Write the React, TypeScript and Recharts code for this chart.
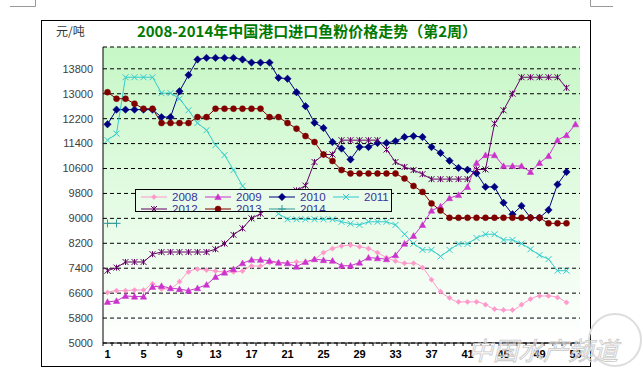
import React from 'react';
import { LineChart, Line, XAxis, YAxis, CartesianGrid, Legend } from 'recharts';

const weeks = [1,2,3,4,5,6,7,8,9,10,11,12,13,14,15,16,17,18,19,20,21,22,23,24,25,26,27,28,29,30,31,32,33,34,35,36,37,38,39,40,41,42,43,44,45,46,47,48,49,50,51,52,53];
const xLabelWeeks = [1,5,9,13,17,21,25,29,33,37,41,45,49,53];
const yTicks = [5000,5800,6600,7400,8200,9000,9800,10600,11400,12200,13000,13800];

const s2008 = [6620,6680,6680,6700,6700,6900,6730,6760,6970,7280,7370,7340,7310,7280,7280,7310,7470,7470,7580,7580,7570,7600,7600,7690,7900,8030,8110,8140,8090,8030,7900,7740,7630,7560,7560,7420,7030,6650,6450,6320,6320,6320,6230,6090,6060,6060,6230,6410,6510,6510,6460,6300];
const s2009 = [6320,6350,6510,6490,6490,6800,6830,6760,6730,6680,6760,6870,7120,7260,7370,7560,7670,7670,7640,7580,7560,7450,7600,7690,7660,7640,7480,7480,7580,7740,7720,7690,7820,8190,8440,8790,9250,9380,9650,9750,10010,10780,11030,11030,10680,10680,10680,10490,10780,11000,11510,11670,12020];
const s2010 = [12020,12490,12490,12490,12490,12490,12250,12250,13080,13600,14100,14150,14150,14150,14150,14100,14000,14000,14000,13510,13480,13050,12600,12070,11900,11450,11240,10890,11290,11290,11420,11420,11480,11610,11640,11610,11290,11100,10850,10620,10560,10450,10010,10010,9500,9130,9400,9020,9020,9270,10090,10490];
const s2011 = [11510,11720,13530,13530,13530,13530,13020,13020,12840,12470,12060,11830,11350,11030,10550,10040,9750,9550,9380,9150,8970,8970,8970,8970,8970,8970,8890,8830,8790,8890,8890,8890,8790,8490,8190,7990,7990,7780,7990,8180,8180,8370,8490,8490,8310,8310,8190,8010,7820,7690,7320,7320];
const s2012 = [7320,7420,7600,7600,7600,7850,7920,7920,7920,7920,7920,7920,8010,8190,8470,8680,9000,9150,9350,9550,9750,9900,10050,10810,11050,11050,11510,11510,11510,11510,11510,11210,10810,10650,10550,10420,10260,10260,10260,10260,10260,10570,10570,12040,12470,13000,13530,13530,13530,13530,13530,13190];
const s2013 = [13050,12840,12840,12680,12520,12520,12060,12060,12060,12060,12250,12250,12520,12520,12520,12520,12520,12520,12250,12250,12060,11880,11640,11450,11050,10840,10550,10440,10440,10440,10440,10440,10440,10280,10040,9850,9480,9250,9020,9020,9020,9020,9020,9020,9020,9020,9020,9020,9020,8840,8840,8840];
const s2014 = [8840,8840];

const seriesNames = ['2008','2009','2010','2011','2012','2013','2014'];
const seriesValues = [s2008,s2009,s2010,s2011,s2012,s2013,s2014];
const seriesColors = ['#ff99cc','#cc33cc','#000080','#33cccc','#660066','#800000','#339999'];
const seriesShapes = ['smallDiamond','triangle','diamond','x','star','circle','plus'];

const chartData = weeks.map((w, i) => {
  const row: any = { week: w };
  seriesNames.forEach((n, k) => { const v = seriesValues[k][i]; row['y' + n] = v === undefined ? null : v; });
  return row;
});

function Marker({ shape, cx, cy, color }: any) {
  switch (shape) {
    case 'diamond': { const r = 3.7; return <path d={`M${cx},${cy - r}L${cx + r},${cy}L${cx},${cy + r}L${cx - r},${cy}Z`} fill={color} stroke={color} strokeWidth={0.5} />; }
    case 'smallDiamond': { const r = 2.6; return <path d={`M${cx},${cy - r}L${cx + r},${cy}L${cx},${cy + r}L${cx - r},${cy}Z`} fill={color} stroke={color} strokeWidth={0.5} />; }
    case 'triangle': { const r = 3.2; return <path d={`M${cx},${cy - r}L${cx + r},${cy + r * 0.8}L${cx - r},${cy + r * 0.8}Z`} fill={color} stroke={color} strokeWidth={0.5} />; }
    case 'x': { const r = 3; return <path d={`M${cx - r},${cy - r}L${cx + r},${cy + r}M${cx - r},${cy + r}L${cx + r},${cy - r}`} stroke={color} strokeWidth={1} fill="none" />; }
    case 'star': { const r = 3; return <path d={`M${cx - r},${cy - r}L${cx + r},${cy + r}M${cx - r},${cy + r}L${cx + r},${cy - r}M${cx},${cy - r}L${cx},${cy + r}`} stroke={color} strokeWidth={1} fill="none" />; }
    case 'circle': return <circle cx={cx} cy={cy} r={3} fill={color} stroke={color} strokeWidth={0.5} />;
    case 'plus': { const r = 4; return <path d={`M${cx - r},${cy}L${cx + r},${cy}M${cx},${cy - r}L${cx},${cy + r}`} stroke={color} strokeWidth={1} fill="none" />; }
    default: return null;
  }
}

const makeDot = (shape: string, color: string) => (props: any) => {
  const { cx, cy, index, value } = props;
  if (cx == null || cy == null || value == null || Number.isNaN(cy)) return <g key={`${shape}-${index}`} />;
  return <g key={`${shape}-${index}`}><Marker shape={shape} cx={cx} cy={cy} color={color} /></g>;
};

const XTick = (props: any) => {
  const { x, y, payload } = props;
  const show = xLabelWeeks.includes(payload.value);
  return (
    <g>
      <line x1={x - 4.5} x2={x - 4.5} y1={y} y2={y + 3} stroke="#000" strokeWidth={1} />
      {show && (
        <text x={x} y={y + 15} textAnchor="middle" fontSize={11} fontWeight="bold" fontFamily="Liberation Sans, Arial, sans-serif" fill="#000">{payload.value}</text>
      )}
    </g>
  );
};

const renderLegend = () => (
  <div style={{ position: 'relative', width: 257, height: 23, border: '1px solid #000', background: '#e9fbe9', overflow: 'hidden', boxSizing: 'border-box' }}>
    {seriesNames.map((n, i) => {
      const col = i < 4 ? i : i - 4;
      const row = i < 4 ? 0 : 1;
      return (
        <div key={n} style={{ position: 'absolute', left: 5 + col * 64, top: 1 + row * 12, height: 12, display: 'flex', alignItems: 'center', whiteSpace: 'nowrap' }}>
          <svg width={26} height={12} style={{ display: 'block' }}>
            <line x1={0} x2={26} y1={6} y2={6} stroke={seriesColors[i]} strokeWidth={1} />
            <Marker shape={seriesShapes[i]} cx={13} cy={6} color={seriesColors[i]} />
          </svg>
          <span style={{ marginLeft: 5, fontSize: 11.5, lineHeight: '12px', fontFamily: 'Liberation Sans, Arial, sans-serif', color: '#333399' }}>{n}</span>
        </div>
      );
    })}
  </div>
);

export default function App() {
  return (
    <div style={{ position: 'absolute', left: 0, top: 0, width: 643, height: 374, background: '#fff', overflow: 'hidden' }}>
      <svg width={643} height={374} style={{ position: 'absolute', left: 0, top: 0 }}>
        <rect x={41.5} y={20.5} width={549} height={346} fill="#fff" stroke="#000" strokeWidth={1} />
        <path d="M10,6.5H35.5V0" stroke="#999" fill="none" />
        <path d="M613,6.5H590.5V0" stroke="#999" fill="none" />
      </svg>
      <div style={{ position: 'absolute', left: 0, top: 0 }}>
        <LineChart width={643} height={374} data={chartData} margin={{ top: 47, right: 63, bottom: 11, left: 43 }}>
          <defs>
            <linearGradient id="bgGrad" x1="0" y1="0" x2="0" y2="1">
              <stop offset="0%" stopColor="#c6f7c6" />
              <stop offset="100%" stopColor="#ffffff" />
            </linearGradient>
          </defs>
          <text x={56} y={36} fontSize={12} fill="#333" fontFamily="Noto Sans CJK SC, sans-serif">元/吨</text>
          <text x={307} y={37} textAnchor="middle" fontSize={15} fontWeight="bold" fill="#007a00" fontFamily="Noto Sans CJK SC, sans-serif">2008-2014年中国港口进口鱼粉价格走势（第2周）</text>
          <CartesianGrid fill="url(#bgGrad)" fillOpacity={1} vertical={false} stroke="#000" strokeDasharray="4 3" />
          <XAxis dataKey="week" interval={0} tick={<XTick />} tickLine={false} tickSize={0} tickMargin={0} axisLine={{ stroke: '#000' }} height={20} padding={{ left: 4.5, right: 4.5 }} />
          <XAxis xAxisId="t" dataKey="week" orientation="top" height={0} tick={false} tickLine={false} axisLine={{ stroke: '#000' }} padding={{ left: 4.5, right: 4.5 }} />
          <YAxis domain={[5000, 14500]} ticks={yTicks} interval={0} width={60} tickLine={false} tickSize={0} tickMargin={10} axisLine={{ stroke: '#000' }} tick={{ fontSize: 11, fill: '#404040', fontFamily: 'Liberation Sans, Arial, sans-serif' }} allowDataOverflow />
          <YAxis yAxisId="r" orientation="right" width={0} domain={[0, 1]} tick={false} tickLine={false} axisLine={{ stroke: '#000' }} />
          {seriesNames.map((n, k) => (
            <Line key={n} type={n === '2008' ? 'monotone' : 'linear'} dataKey={'y' + n} stroke={seriesColors[k]} strokeWidth={1} dot={makeDot(seriesShapes[k], seriesColors[k])} activeDot={false} isAnimationActive={false} connectNulls={false} />
          ))}
          <Legend content={renderLegend} layout="horizontal" verticalAlign="middle" align="center" wrapperStyle={{ position: 'absolute', left: 135, top: 189, width: 257, height: 23 }} />
        </LineChart>
      </div>
      <svg width={643} height={374} style={{ position: 'absolute', left: 0, top: 0, pointerEvents: 'none' }}>
        <circle cx={615} cy={340} r={26} fill="none" stroke="#ddd" strokeWidth={2} />
        <text x={468} y={360} fontSize={25} fontStyle="italic" fill="rgba(255,255,255,0.4)" stroke="#c8c8c8" strokeWidth={0.8} fontFamily="Noto Sans CJK SC, sans-serif">中国水产频道</text>
      </svg>
    </div>
  );
}
